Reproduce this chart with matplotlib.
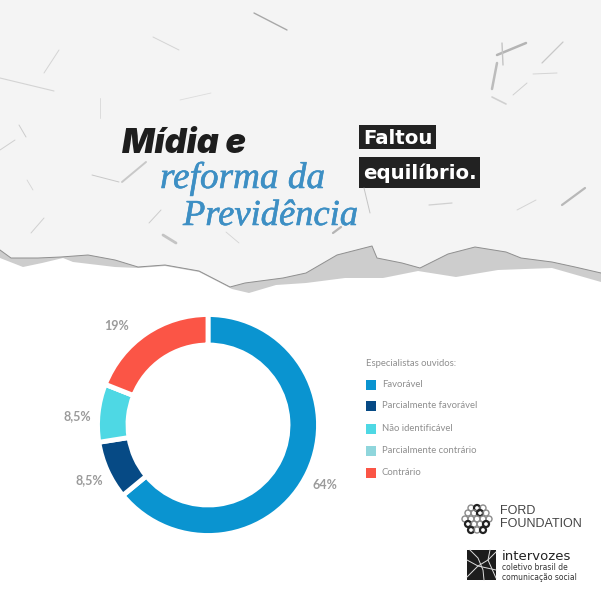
"""Donut chart: especialistas ouvidos na midia sobre a reforma da Previdencia."""

import matplotlib

matplotlib.use("Agg")

import matplotlib.patheffects as pe
import matplotlib.pyplot as plt
from matplotlib.patches import Circle, Polygon, Rectangle

WIDTH = 601
HEIGHT = 599

categories = [
    "Favorável",
    "Parcialmente favorável",
    "Não identificável",
    "Parcialmente contrário",
    "Contrário",
]
values = [64, 8.5, 8.5, 0, 19]
value_labels = ["64%", "8,5%", "8,5%", "", "19%"]
colors = ["#0a94d0", "#064a85", "#4ed8e4", "#8fd6dc", "#fb5546"]
label_positions = [(325, 485), (89, 480), (77, 416), None, (117, 326)]
legend_rows = [385, 406, 429, 451, 473]

# torn paper edge
edge_top = [(0, 250), (11, 258), (38, 258), (61, 257), (88, 255), (115, 260), (138, 267),
            (165, 265), (199, 271), (230, 287), (245, 283), (283, 278), (306, 273),
            (337, 255), (372, 246), (377, 258), (402, 263), (420, 268), (448, 254),
            (475, 247), (506, 252), (521, 258), (552, 262), (575, 267), (601, 273)]
edge_bottom = [(0, 258), (23, 267), (42, 263), (63, 258), (73, 262), (115, 267), (138, 268),
               (165, 266), (199, 272), (232, 289), (249, 293), (276, 285), (306, 283),
               (345, 278), (383, 278), (418, 271), (456, 277), (498, 270), (552, 268),
               (601, 282)]

# paper fibres: x0, y0, x1, y1, line width, shade
fibres = [(254, 13, 287, 30, 1.0, "#a8a8a8"), (497, 55, 526, 43, 1.8, "#b4b4b4"),
          (497, 63, 492, 89, 1.8, "#bcbcbc"), (502, 43, 503, 65, 1.0, "#c4c4c4"),
          (563, 42, 542, 63, 0.9, "#c8c8c8"), (153, 37, 179, 50, 0.7, "#d4d4d4"),
          (59, 50, 44, 73, 0.7, "#d4d4d4"), (0, 78, 54, 91, 0.8, "#d4d4d4"),
          (513, 95, 527, 83, 0.7, "#d0d0d0"), (492, 97, 506, 104, 1.2, "#d0d0d0"),
          (180, 100, 211, 93, 0.6, "#dcdcdc"), (100, 98, 100, 118, 0.6, "#d8d8d8"),
          (533, 74, 557, 73, 0.7, "#d4d4d4"), (585, 188, 562, 205, 1.6, "#b8b8b8"),
          (146, 162, 122, 182, 1.4, "#c8c8c8"), (92, 175, 119, 182, 0.7, "#c8c8c8"),
          (19, 125, 26, 137, 0.7, "#cccccc"), (0, 150, 15, 140, 0.7, "#d0d0d0"),
          (364, 188, 370, 213, 0.7, "#c4c4c4"), (341, 227, 333, 233, 1.6, "#b4b4b4"),
          (163, 235, 176, 243, 2.0, "#c4c4c4"), (429, 205, 452, 203, 0.9, "#d0d0d0"),
          (31, 233, 44, 218, 0.7, "#d0d0d0"), (149, 223, 161, 210, 0.7, "#cccccc"),
          (517, 210, 536, 200, 0.7, "#d4d4d4"), (226, 232, 239, 243, 0.6, "#d4d4d4"),
          (27, 180, 33, 190, 0.6, "#d4d4d4")]

# ford logo rings: x, y, dark or not
ford_rings = [(471, 508, 0), (477, 508, 1), (483, 508, 0), (468, 513, 0), (474, 513, 0),
              (480, 513, 1), (486, 513, 0), (465, 519, 0), (471, 519, 0), (477, 519, 0),
              (483, 519, 0), (489, 519, 0), (468, 524, 1), (474, 524, 0), (480, 524, 0),
              (486, 524, 1), (471, 530, 1), (477, 530, 0), (483, 530, 1)]

# white veins on the intervozes square
vein_lines = [[(467, 577), (478, 566), (488, 560), (496, 552)],
              [(470, 550), (478, 558), (483, 570), (484, 580)],
              [(467, 560), (478, 566), (496, 570)],
              [(490, 550), (488, 560), (496, 578)]]

SANS = "Lato"
fig = plt.figure(figsize=(WIDTH / 100, HEIGHT / 100), dpi=100, facecolor="white")
ax = fig.add_axes([0, 0, 1, 1])
ax.set_xlim(0, WIDTH)
ax.set_ylim(HEIGHT, 0)
ax.axis("off")

# paper header
ax.add_patch(Polygon([(0, 0), (WIDTH, 0)] + edge_bottom[::-1], color="#cdcdcd", lw=0))
ax.add_patch(Polygon([(0, 0), (WIDTH, 0)] + edge_top[::-1], color="#f4f4f4", lw=0))
ax.plot([p[0] for p in edge_top], [p[1] for p in edge_top], color="#8f8f8f", lw=0.7)
for x0, y0, x1, y1, lw, shade in fibres:
    ax.plot([x0, x1], [y0, y1], color=shade, lw=lw, solid_capstyle="round")

# headline
ax.text(122, 153, "Mídia e", family="Inter", style="italic", weight="black", fontsize=24.5,
        color="#1d1d1d", ha="left", va="baseline")
serif_stroke = [pe.withStroke(linewidth=0.4, foreground="#3d8fc4")]
ax.text(160, 188, "reforma da", family="Liberation Serif", style="italic", fontsize=26.8,
        color="#3d8fc4", ha="left", va="baseline", path_effects=serif_stroke)
ax.text(183, 225, "Previdência", family="Liberation Serif", style="italic", fontsize=26.3,
        color="#3d8fc4", ha="left", va="baseline", path_effects=serif_stroke)

ax.add_patch(Rectangle((359, 125), 77, 24, color="#222222", lw=0))
ax.add_patch(Rectangle((359, 157), 121, 31, color="#222222", lw=0))
ax.text(363, 144, "Faltou", family="DejaVu Sans", weight="bold", fontsize=14.2, color="white",
        ha="left", va="baseline")
ax.text(363, 179, "equilíbrio.", family="DejaVu Sans", weight="bold", fontsize=14.2,
        color="white", ha="left", va="baseline")

# donut
cx, cy, radius = 208, 425, 110.5
pie_ax = fig.add_axes([(cx - radius) / WIDTH, 1 - (cy + radius) / HEIGHT,
                       2 * radius / WIDTH, 2 * radius / HEIGHT])
pie_ax.pie(values, colors=colors, startangle=90, counterclock=False, radius=1,
           wedgeprops={"width": 0.276, "edgecolor": "white", "linewidth": 3.5})
pie_ax.set_xlim(-1, 1)
pie_ax.set_ylim(-1, 1)

for text, pos in zip(value_labels, label_positions):
    if pos is not None:
        ax.text(pos[0], pos[1], text, family=SANS, weight="bold", fontsize=9, color="#9b9b9b",
                ha="center", va="center")

# legend
ax.text(366, 363, "Especialistas ouvidos:", family=SANS, fontsize=6.8, color="#8f8f8f",
        ha="left", va="center")
for name, color, y in zip(categories, colors, legend_rows):
    ax.add_patch(Rectangle((366, y - 5), 10, 10, color=color, lw=0))
    ax.text(382, y - 0.5, name, family=SANS, fontsize=6.8, color="#8f8f8f", ha="left",
            va="center")

# ford foundation logo
for x, y, dark in ford_rings:
    ax.add_patch(Circle((x, y), 3.0, fill=False, ec="#222222" if dark else "#8a8a8a",
                        lw=1.6 if dark else 1.0))
ax.text(500, 511, "FORD", family="Liberation Sans", fontsize=9, color="#444444", ha="left",
        va="center")
ax.text(500, 524, "FOUNDATION", family="Liberation Sans", fontsize=9, color="#444444",
        ha="left", va="center")

# intervozes logo
ax.add_patch(Rectangle((467, 550), 29, 30, color="#1c1c1c", lw=0))
for line in vein_lines:
    ax.plot([p[0] for p in line], [p[1] for p in line], color="#dddddd", lw=0.7)
ax.text(502, 556, "intervozes", family="DejaVu Sans", fontsize=9.5, color="#222222", ha="left",
        va="center")
ax.text(502, 567, "coletivo brasil de", family="DejaVu Sans", fontsize=5.5, color="#333333",
        ha="left", va="center")
ax.text(502, 577, "comunicação social", family="DejaVu Sans", fontsize=5.5, color="#333333",
        ha="left", va="center")

fig.savefig("out.png", dpi=100)
